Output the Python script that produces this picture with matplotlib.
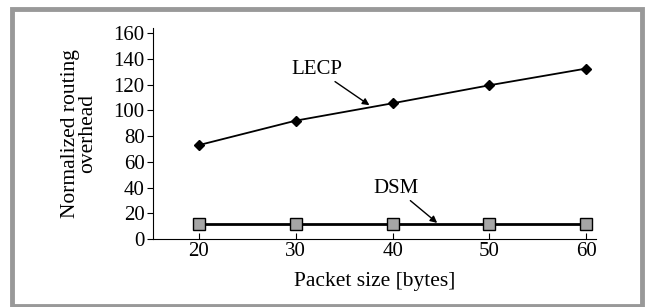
import matplotlib.pyplot as plt
from matplotlib.patches import Rectangle

plt.rcParams['font.family'] = ['Liberation Serif', 'DejaVu Serif']

packet_size = [20, 30, 40, 50, 60]
lecp = [73, 92, 105.5, 119.5, 132.5]
dsm = [12, 12, 12, 12, 12]

fs = 15

fig = plt.figure(figsize=(6.45, 3.07), dpi=100)
# gray frame round the whole picture
fig.patches.append(Rectangle((12 / 645, 1.5 / 307), 630 / 645, 297 / 307, transform=fig.transFigure,
                             fill=False, edgecolor='#999999', linewidth=3.5))

ax = fig.add_axes([153 / 645, 68 / 307, 443 / 645, 211 / 307])
ax.plot(packet_size, lecp, color='black', lw=1.3, marker='D', ms=5.5, mfc='black', mec='black')
ax.plot(packet_size, dsm, color='black', lw=2, marker='s', ms=8, mfc='#a6a6a6', mec='black', mew=1)

ax.set_xlim(15.25, 61.0)
ax.set_ylim(0, 164)
ax.set_xticks(packet_size)
ax.set_yticks(range(0, 161, 20))
ax.spines['top'].set_visible(False)
ax.spines['right'].set_visible(False)
ax.tick_params(axis='x', direction='in', length=4, labelsize=fs, pad=2)
ax.tick_params(axis='y', direction='out', length=4, labelsize=fs, pad=2)

ax.set_xlabel('Packet size [bytes]', fontsize=15.5, labelpad=8)
ax.set_ylabel('Normalized routing\noverhead', fontsize=15.5, linespacing=0.82, labelpad=12)

ax.annotate('LECP', xy=(37.6, 104), xytext=(32.2, 124.5), fontsize=fs, ha='center', va='bottom',
            arrowprops=dict(arrowstyle='-|>', color='black', lw=1, mutation_scale=10, shrinkA=0, shrinkB=0))
ax.annotate('DSM', xy=(44.6, 12.5), xytext=(40.3, 32), fontsize=fs, ha='center', va='bottom',
            arrowprops=dict(arrowstyle='-|>', color='black', lw=1, mutation_scale=10, shrinkA=0, shrinkB=0))

fig.savefig('out.png', dpi=100)
